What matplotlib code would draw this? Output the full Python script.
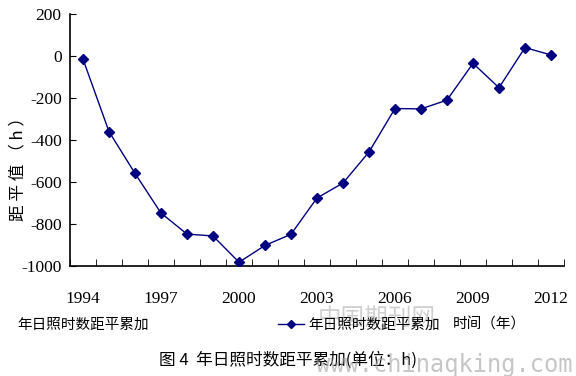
import matplotlib.pyplot as plt
from matplotlib.lines import Line2D
from matplotlib.ticker import FixedLocator

plt.rcParams['font.family'] = ['Liberation Serif', 'Noto Sans CJK SC', 'DejaVu Sans']

years = list(range(1994, 2013))
values = [-15, -360, -559, -748, -848, -857, -982, -902, -849, -676,
          -605, -457, -250, -252, -210, -35, -151, 40, 5]
tick_years = [1994, 1997, 2000, 2003, 2006, 2009, 2012]
y_ticks = [-1000, -800, -600, -400, -200, 0, 200]

navy = '#000080'
cjk = ['Noto Sans CJK SC', 'DejaVu Sans']

fig = plt.figure(figsize=(5.76, 3.76), dpi=100)
ax = fig.add_axes([70 / 576, 1 - 266 / 376, 494 / 576, 252 / 376])

x = list(range(len(years)))
ax.plot(x, values, color=navy, lw=1, marker='D', markersize=5.5, zorder=3)

ax.set_xlim(-0.5, len(years) - 0.5)
ax.set_ylim(-1000, 200)
ax.set_yticks(y_ticks)
ax.set_yticklabels([str(v) for v in y_ticks], fontsize=12.5)
ax.tick_params(axis='y', direction='in', length=4, pad=6)

ax.set_xticks([years.index(y) for y in tick_years])
ax.set_xticklabels([str(y) for y in tick_years], fontsize=12.5)
ax.tick_params(axis='x', which='major', length=0, pad=18)
ax.xaxis.set_minor_locator(FixedLocator([i - 0.5 for i in range(len(years) + 1)]))
ax.tick_params(axis='x', which='minor', direction='in', length=5)

for s in ['top', 'right']:
    ax.spines[s].set_visible(False)
for s in ['left', 'bottom']:
    ax.spines[s].set_linewidth(1.2)

fig.text(18 / 576, 1 - 165 / 376, '距 平 值 （ h ）', rotation=90, ha='center', va='center',
         fontsize=12, family=cjk)

fig.text(17 / 576, 1 - 325 / 376, '年日照时数距平累加', ha='left', va='center',
         fontsize=10.5, family=cjk)
leg_handle = Line2D([], [], color=navy, lw=1, marker='D', markersize=4)
fig.legend(handles=[leg_handle], labels=['年日照时数距平累加'], loc='center left',
           bbox_to_anchor=(278 / 576, 1 - 325 / 376), frameon=False,
           prop={'family': cjk, 'size': 10.5}, handlelength=1.8, handletextpad=0.3,
           borderpad=0, borderaxespad=0)
fig.text(453 / 576, 1 - 325 / 376, '时间（年）', ha='left', va='center',
         fontsize=10.5, family=cjk)

fig.text(288 / 576, 1 - 360 / 376, '图 4  年日照时数距平累加(单位：h)', ha='center',
         va='center', fontsize=12, family=cjk)

# watermark
fig.text(318 / 576, 1 - 318 / 376, '中国期刊网', ha='left', va='center', fontsize=17,
         color='#b0b0b0', alpha=0.6, family=cjk)
fig.text(316 / 576, 1 - 365 / 376, 'www.chinaqking.com', ha='left', va='center',
         fontsize=17, color='#a0a0a0', alpha=0.6, family=['DejaVu Sans Mono'])

fig.savefig('out.png', dpi=100)
